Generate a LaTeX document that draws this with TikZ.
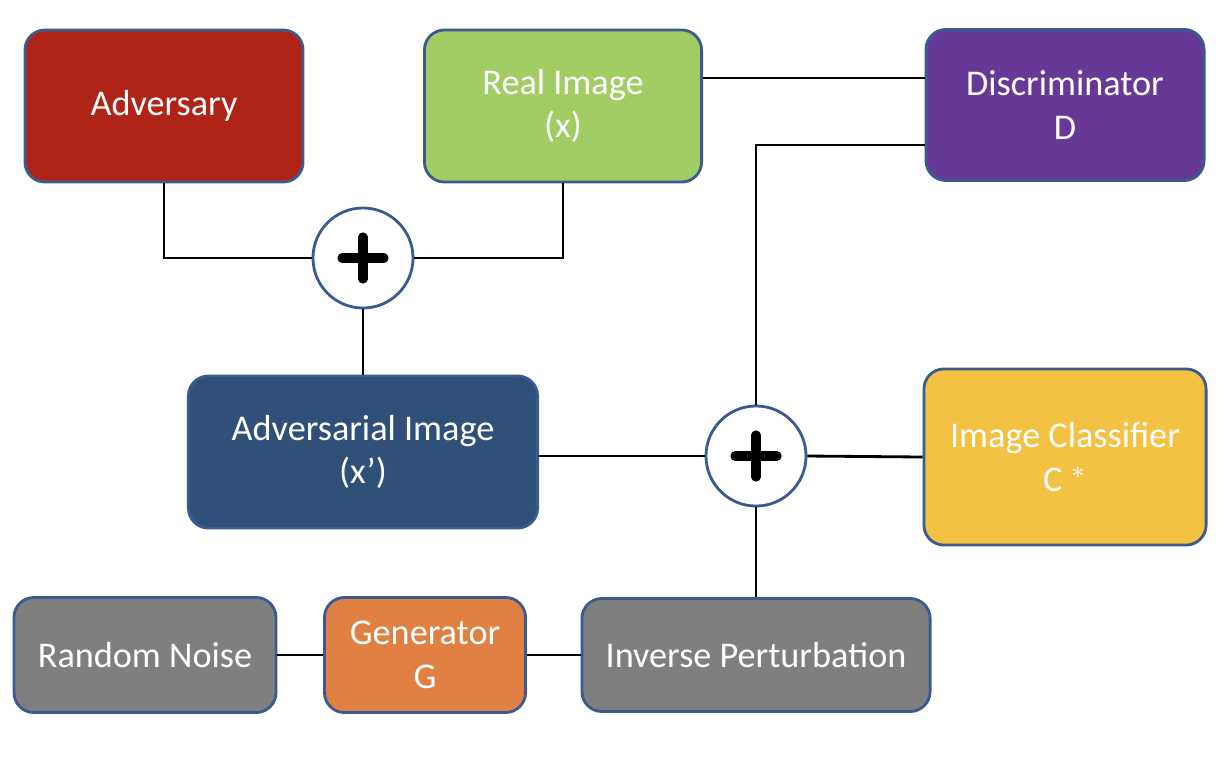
\documentclass[tikz,border=0pt]{standalone}
\usepackage{fontspec}
\setmainfont{Carlito}
\usepackage{xcolor}
\usetikzlibrary{positioning,calc}

\definecolor{advred}{HTML}{B02418}
\definecolor{realgreen}{HTML}{A2CD65}
\definecolor{discpurple}{HTML}{673997}
\definecolor{advnavy}{HTML}{2E5079}
\definecolor{clsyellow}{HTML}{F4C242}
\definecolor{noisegray}{HTML}{7F7F7F}
\definecolor{genorange}{HTML}{E08143}
\definecolor{edgeblue}{HTML}{3A5A90}

\tikzset{
  block/.style={draw=edgeblue, line width=0.8pt, rounded corners=0.2cm, text=white,
    align=center, font=\fontsize{10.3}{12.4}\selectfont, inner sep=0pt},
  sumnode/.style={circle, draw=edgeblue, line width=0.8pt, fill=white, minimum size=1.0cm,
    path picture={
      \draw[black, line width=2.6pt, line cap=round] ($(path picture bounding box.center)+(-0.21cm,0cm)$) -- ($(path picture bounding box.center)+(0.21cm,0cm)$);
      \draw[black, line width=2.6pt, line cap=round] ($(path picture bounding box.center)+(0cm,-0.21cm)$) -- ($(path picture bounding box.center)+(0cm,0.21cm)$);
    }},
  link/.style={line width=0.8pt, black}
}

\begin{document}
\begin{tikzpicture}[x=0.01cm, y=-0.01cm]
  \useasboundingbox (0,0) rectangle (1228,772);

  % top row
  \node[block, fill=advred, minimum width=2.78cm, minimum height=1.52cm] (adversary) at (164,106) {Adversary};
  \node[block, fill=realgreen, minimum width=2.77cm, minimum height=1.52cm] (real) at (563,106) {Real Image\\(x)};
  \node[block, fill=discpurple, minimum width=2.78cm, minimum height=1.51cm] (disc) at (1065,105) {Discriminator\\D};

  % middle row
  \node[sumnode] (sumA) at (363,258) {};
  \node[block, fill=advnavy, minimum width=3.49cm, minimum height=1.52cm] (advimg) at (363,452) {Adversarial Image\\(x’)};
  \node[sumnode] (sumB) at (756,456) {};
  \node[block, fill=clsyellow, minimum width=2.82cm, minimum height=1.76cm] (classifier) at (1065,457) {Image Classifier\\C $^{*}$};

  % bottom row
  \node[block, fill=noisegray, minimum width=2.62cm, minimum height=1.15cm] (noise) at (145,655) {Random Noise};
  \node[block, fill=genorange, minimum width=2.01cm, minimum height=1.15cm] (gen) at (425,655) {Generator\\G};
  \node[block, fill=noisegray, minimum width=3.48cm, minimum height=1.13cm] (inverse) at (756,655) {Inverse Perturbation};

  % connections
  \draw[link] (adversary.south) |- (sumA.west);
  \draw[link] (real.south) |- (sumA.east);
  \draw[link] (sumA.south) -- (advimg.north);
  \draw[link] (advimg.east |- sumB.west) -- (sumB.west);
  \draw[link] (sumB.east) -- (classifier.west);
  \draw[link] (sumB.north) |- (disc.west |- 0,145);
  \draw[link] (real.east |- 0,78) -- (disc.west |- 0,78);
  \draw[link] (sumB.south) -- (inverse.north);
  \draw[link] (noise.east) -- (gen.west);
  \draw[link] (gen.east) -- (inverse.west);
\end{tikzpicture}
\end{document}
